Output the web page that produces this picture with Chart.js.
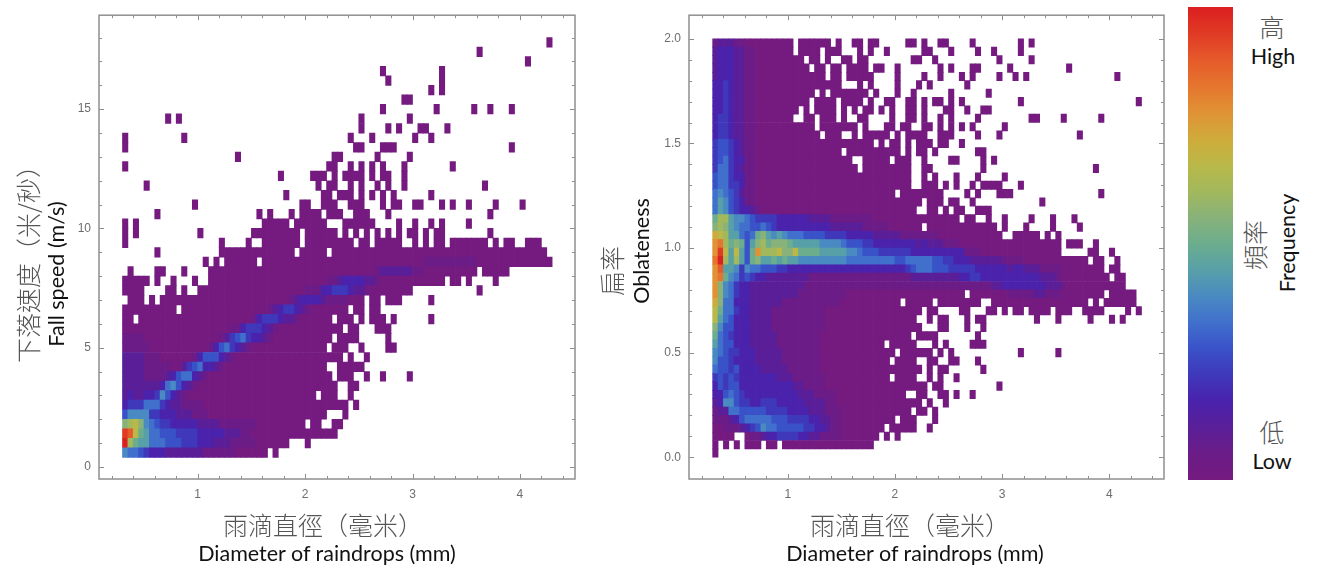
<!DOCTYPE html>
<html lang="zh-Hant">
<head>
<meta charset="utf-8">
<title>Raindrop fall speed and oblateness</title>
<script src="https://cdn.jsdelivr.net/npm/chart.js@4/dist/chart.umd.min.js"></script>
<style>
html,body{margin:0;padding:0;background:#fff;width:1320px;height:585px;overflow:hidden}
canvas{position:absolute;top:0;filter:blur(.45px)}
.t{position:absolute;transform:translate(-50%,-50%);white-space:nowrap;line-height:1}
.r{transform:translate(-50%,-50%) rotate(-90deg)}
.zh{font-family:"Noto Sans CJK TC";font-weight:300;font-size:25px;color:#555}
.en{font-family:Lato,"Open Sans",sans-serif;font-size:21.5px;color:#111}
#bar{position:absolute;left:1187.5px;top:7px;width:45px;height:473px;filter:blur(.5px)}
</style>
</head>
<body>
<canvas id="speed" width="640" height="585" style="left:0;width:640px;height:585px"></canvas>
<canvas id="obl" width="560" height="585" style="left:640px;width:560px;height:585px"></canvas>
<div id="bar"></div>
<div class="t zh" style="left:323px;top:524px">雨滴直徑（毫米）</div>
<div class="t en" style="left:327px;top:554px">Diameter of raindrops (mm)</div>
<div class="t zh" style="left:910px;top:524px">雨滴直徑（毫米）</div>
<div class="t en" style="left:915px;top:554px">Diameter of raindrops (mm)</div>
<div class="t zh r" style="left:27px;top:258px">下落速度（米/秒）</div>
<div class="t en r" style="left:57px;top:274px">Fall speed (m/s)</div>
<div class="t zh r" style="left:611px;top:271px">扁率</div>
<div class="t en r" style="left:642px;top:251px">Oblateness</div>
<div class="t zh" style="left:1272px;top:26px">高</div>
<div class="t en" style="left:1273px;top:57px">High</div>
<div class="t zh r" style="left:1254px;top:245px">頻率</div>
<div class="t en r" style="left:1288px;top:243px">Frequency</div>
<div class="t zh" style="left:1272px;top:431px">低</div>
<div class="t en" style="left:1272px;top:462px">Low</div>
<script>
// Relative frequency level of each histogram cell.
// One string per row, top row first; "." = empty cell, 0..9,a..i = level 0..18.
const speedRows = [
".......... .......... .......... .......... .......... .......... .......... .........0",
".......... .......... .......... .......... .......... .......... ......0...",
".......... .......... .......... .......... .......... .......... .......... .....0....",
".......... .......... .......... .......... ........0. .........0",
".......... .......... .......... .......... .........0 .........0",
".......... .......... .......... .......... .......... .......0.0",
".......... .......... .......... .......... .......... ..00......",
".......... .......... .......... .......... ........0. ........0. .....0..0. ..0.......",
"........0. 0......... .......... .......... ....0..... ...0......",
".......... .......... .......... .......... ....0....0 .0...00... 0.........",
"0......... .0........ .......... .......... ..0...0... ....0..0..",
"0......... .......... .......... .......... ...00...00 0......... .......... ..0.......",
".......... .......... .0........ .........0 0......0.. ...0......",
"0......... .......... .......... ........00 ..0.0.0.0. ..0....... .0........",
".......... .......... .........0 .....000.0 .0000.0.00 ..0.......",
"....0..... .......... .......... ......0.00 ..0.0..0.0 ..0....... .......0..",
".......... .......... .......... 0......00. 000.0.0.0. 0......0..",
".......... ...0...... .......... ...00..000 ..000...0. 00..00...0 .0..0....0 ....0.....",
"......0... .......... .....0.0.. .0.0000.00 0..000...0 .......... ........0.",
"0.0....... .......... ......0000 0.000000.. .000000... .0..0..0.0 ....0.....",
"0.0....... ....0..... ....000000 000.000000 .0.0.0.0.0 .0.00.0.00 ........0.",
"0......... ........0. ...0..0000 000.000000 000.00.000 00..0.0.00 .0000000.0 .00..000..",
"......0... ........00 0000000000 00.00000.0 0000000000 0000000000 0000000000 000000000.",
".......... .....0.0.0 00000.0000 0000000000 0000000000 0000001111 1111110000 0000000000",
".0....00.. .0....0000 0000000000 0000000000 0000000122 2222110000 000000.000 00........",
"00000.0..0 ...0..0000 0000000000 0000000011 2333322100 0000000000 .00.0....0",
"0000....00 .0..000000 0000000000 0000111334 4432210000 0000...... ......0...",
".000.0.000 0000000000 0000000000 0123333211 11000.00.0 00.....0..",
"0000000000 .000000000 0000000123 4432100000 00.00.00..",
"00.0000000 0000000000 0000134443 221000000. 000.0.000. 0......0..",
"0000000000 0000000000 1134443210 0000000000 0.00...000",
"1111000000 0000000012 4564332100 000000000. 0000.....0",
"1111100000 0000001356 4321000000 00000000.0 00..0....0 0.........",
"2222111000 0001355532 1000000000 0000000000 0.0..0....",
"2222111110 0245633210 0000000000 00000000.. 00000.....",
"2222111123 5663210000 0000000000 000000000. 000..0..0. ...0......",
"2222222367 5321000000 0000000000 0000000000 ..00......",
"2322334753 2100000000 0000000000 000000.000 ..0.......",
"3444666432 2111100000 0000000000 0000000000 00.0......",
"5777744333 2221110000 0000000000 00000000.. .0........",
"abca765443 3333222211 1111100000 0000.00..0 0.........",
"hgc9866555 4444333332 2211000000 0000000000",
"ib98866655 5444333222 1111100000 0...0.....",
"7665433322 2222211111 1000000.0."
];
const oblatenessRows = [
"1222110000 00000.0000 00.0..00.0 0.....00.0 ..00....0. .......0.0",
"2333221100 00000.0000 .000...0.0 ..0......0 0...0....0 ..0....0..",
"2333221100 0000000.00 .0..00.00. .......00. .0........ ...0.....0",
"2333221100 00000000.0 0.00.0000. 00..0..... ..0.0...00 .....0.... ......0...",
"2333221100 0000000000 0.00.00000 ....0....0 ..0...0.0. ...0..0.0. .......... .....0....",
"3343221100 0000000000 0000...0.0 ....0...0. 0......0..",
"3343221100 000000000. 0.0000000. 0...0..0.. ....0..... .0........",
"3343221100 00000000.0 000.0000.0 ..00..00.0 .00.0.0... .......0.. .......... .........0",
"3343221100 000000.0.0 000.0.0.00 .0.0..00.0 ...00..0.. 00........",
"3443221100 00000..00. 000.0..00. ...0..00.0 ..0.0....0 .........0 0....0.... ..0.......",
"3443221100 000000000. 0000000.0. ..00.00..0 0.0.0.0.0. ....0.....",
"3443221100 0000000000 .000..0.00 000.0.0000 ..000....0 ...0...... ........0.",
"4554321100 0000000000 0000000000 .0.00.0.00 0.00..0...",
"4554321100 0000000000 0000.00000 00000.0.00 .0.......0 0.........",
"4564331100 0000000000 000000..00 000.000..0 ....00.... 0.0.......",
"4664321100 0000000000 0000000.00 0000000..0 0......... 0......... .......... .0........",
"5664331100 0000000000 0000000000 0000000..0 .0...0...0 ....0.....",
"5664431100 0000000000 0000000000 0000000..0 00.0.0..0. 0000...0..",
"6765421100 0000000000 0000000000 0000.00000 000....0.0 ...000.... .......... ..0.......",
"6875431100 0000000000 0000000000 000000000. 000.00..0. .......... .0........",
"6875433210 0000000000 0000000000 00000000.. 00.0.00..0 00........",
"9bb8776544 4433333322 2211111111 0000000000 000000.00. .0..0....0 ...0...0..",
"aba8766556 5433333333 3322222211 111000000. 0000000000 000.0...0. ...0....0.",
"dcb886569a 8787666555 5444433333 2222211111 1100000000 0000..0000 0.0.0.....",
"efb9a958ab 9aaa988888 7777655544 3333333323 2221110000 0000000000 00000.000. .0........",
"ehc8c859eb bbcaac9999 8888877655 5444444333 3333333111 0000000000 00000..... 00..0.....",
"fib8b859a8 8989887777 7777766666 6666556666 6554433322 2222111100 0000000000 .00..0....",
"eg88747665 5544333333 3333333333 3333334566 6555444443 3333323322 2111100000 000.00....",
"ef97645433 2222222211 1111111111 1111111222 2222223344 3333333333 3222100000 0000.00...",
"ea76433222 2222222111 1111111111 1111111111 1111111111 1122333333 3322210000 0000000...",
"ea76433222 2222221111 1111100000 0000000000 0000000.00 0000011111 2211100000 000.00000.",
"da66333222 2221111111 1111000000 00000.0000 0.00000000 ..00000000 0000000000 .0.000000.",
"c966433222 2111111111 1000000000 000000000. 00....00.. .00.0.00.0 000.000..0 000....0.0",
"c865333222 2111111111 1000000000 00000000.. 0.00...0.0 0......... 0...0..... 0...0.0...",
"a755333222 2111111111 1000000000 000000000. ..00...0.. 0.........",
"9654333222 2211111111 0000000000 0000000.00 00.......0",
"8655333222 2211111111 0000000000 00.00000.. .0.0....00 0.........",
"7654433322 2221111111 0000000000 0000.00000 0.0.0..... .......0.. ....0.....",
"7554333322 2221111111 0000000000 000.0000.. 00..00...0",
"6554533332 2222111111 0000000000 000000000. 0.00...... 0.........",
"4545433333 3322211111 1000000000 000.0000.. 0.0..0....",
"3545533333 3333322111 1000000000 0000000000 .00....... ...0......",
"3356543333 3333332221 1110000000 000000..00 ..00.0..0.",
"2377544334 4433333222 2110000000 000000000. 0..0......",
"1226655555 4444333322 2111000000 0000000.00 .0........",
"1112356666 6555444433 2211000000 0000.000.. .0........",
"0011123457 6655555443 3211000000 00.00000.. 0.........",
"0000..0112 3344443322 1111000000 0.0.0.....",
"0.0.0.000. 00.0000000 0000000000",
"0........."
];
const diameterBinStart = 0.3, diameterBinWidth = 0.05;
const speedBinStart = 0.4, speedBinWidth = 0.4;
const oblatenessBinStart = 0, oblatenessBinWidth = 0.04;

const diameterTicks = [1, 2, 3, 4];
const diameterMinorTicks = [0.2,0.4,0.6,0.8,1.2,1.4,1.6,1.8,2.2,2.4,2.6,2.8,3.2,3.4,3.6,3.8,4.2,4.4];
const speedTicks = [0, 5, 10, 15];
const speedMinorTicks = [1,2,3,4,6,7,8,9,11,12,13,14,16,17,18];
const oblatenessTicks = [0, 0.5, 1, 1.5, 2];
const oblatenessMinorTicks = [0.1,0.2,0.3,0.4,0.6,0.7,0.8,0.9,1.1,1.2,1.3,1.4,1.6,1.7,1.8,1.9];

// Colour scale, low to high frequency
const levelColors = ["#751b80","#6b1c87","#5a1f98","#4a22ac","#3f38bb","#3a52c8","#4070cc","#4a8ac2","#58a0a8",
  "#6cad8e","#88b279","#a2b85c","#bab848","#d0ab3b","#e09235","#e5752e","#e55a2a","#e03a25","#dc1f20"];

document.getElementById('bar').style.background =
  'linear-gradient(to top,' + levelColors.join(',') + ')';

function cells(rows, yStart, yStep) {
  const out = [];
  rows.forEach((row, i) => {
    const r = rows.length - 1 - i;
    row.replace(/ /g, '').split('').forEach((c, k) => {
      if (c === '.') return;
      out.push({
        x: diameterBinStart + diameterBinWidth * (k + 0.5),
        y: [yStart + yStep * r, yStart + yStep * (r + 1)],
        level: parseInt(c, 36)
      });
    });
  });
  return out;
}

const framePlugin = {
  id: 'frame',
  afterDatasetsDraw(chart, args, o) {
    const {ctx, chartArea: a, scales: {x, y}} = chart;
    ctx.save();
    ctx.strokeStyle = '#8f8f8f';
    const tick = (list, len) => {
      ctx.lineWidth = 1;
      ctx.beginPath();
      list.x.forEach(v => {
        const p = Math.round(x.getPixelForValue(v)) + .5;
        ctx.moveTo(p, a.bottom); ctx.lineTo(p, a.bottom - len);
        ctx.moveTo(p, a.top); ctx.lineTo(p, a.top + len);
      });
      list.y.forEach(v => {
        const p = Math.round(y.getPixelForValue(v)) + .5;
        ctx.moveTo(a.left, p); ctx.lineTo(a.left + len, p);
        ctx.moveTo(a.right, p); ctx.lineTo(a.right - len, p);
      });
      ctx.stroke();
    };
    tick({x: o.majorX, y: o.majorY}, 5);
    tick({x: o.minorX, y: o.minorY}, 3);
    ctx.lineWidth = 1.5;
    ctx.strokeRect(a.left, a.top, a.right - a.left, a.bottom - a.top);
    ctx.restore();
  }
};

function heatmap(id, rows, yStart, yStep, box, xr, yr, yTicks, yMinor, fmt) {
  new Chart(document.getElementById(id), {
    type: 'bar',
    plugins: [framePlugin],
    data: {datasets: [{
      data: cells(rows, yStart, yStep),
      backgroundColor: c => levelColors[c.raw ? c.raw.level : 0],
      barThickness: 5.37,
      borderWidth: 0,
      inflateAmount: 0.35,
      grouped: false
    }]},
    options: {
      responsive: false, animation: false, events: [],
      layout: {padding: {left: 0, top: box.top, right: box.right, bottom: 0}},
      plugins: {legend: {display: false}, tooltip: {enabled: false},
        frame: {majorX: diameterTicks, minorX: diameterMinorTicks, majorY: yTicks, minorY: yMinor}},
      scales: {
        x: {
          type: 'linear', offset: false, min: xr[0], max: xr[1],
          grid: {display: false, offset: false, drawTicks: false}, border: {display: false},
          afterBuildTicks: s => { s.ticks = diameterTicks.map(v => ({value: v})); },
          afterFit: s => { s.height = box.bottom; },
          ticks: {padding: 8, color: '#6d6d6d', font: {family: 'Liberation Sans', size: 12}, maxRotation: 0,
            callback: v => String(v)}
        },
        y: {
          type: 'linear', min: yr[0], max: yr[1],
          grid: {display: false, drawTicks: false}, border: {display: false},
          afterBuildTicks: s => { s.ticks = yTicks.map(v => ({value: v})); },
          afterFit: s => { s.width = box.left; },
          ticks: {padding: 8, color: '#6d6d6d', font: {family: 'Liberation Sans', size: 12}, callback: fmt}
        }
      }
    }
  });
}

heatmap('speed', speedRows, speedBinStart, speedBinWidth,
  {left: 99, top: 4.5, right: 65, bottom: 106}, [0.081, 4.513], [-0.504, 18.94],
  speedTicks, speedMinorTicks, v => String(v));
heatmap('obl', oblatenessRows, oblatenessBinStart, oblatenessBinWidth,
  {left: 49, top: 4.5, right: 36, bottom: 106}, [0.079, 4.51], [-0.104, 2.113],
  oblatenessTicks, oblatenessMinorTicks, v => v.toFixed(1));
</script>
</body>
</html>
